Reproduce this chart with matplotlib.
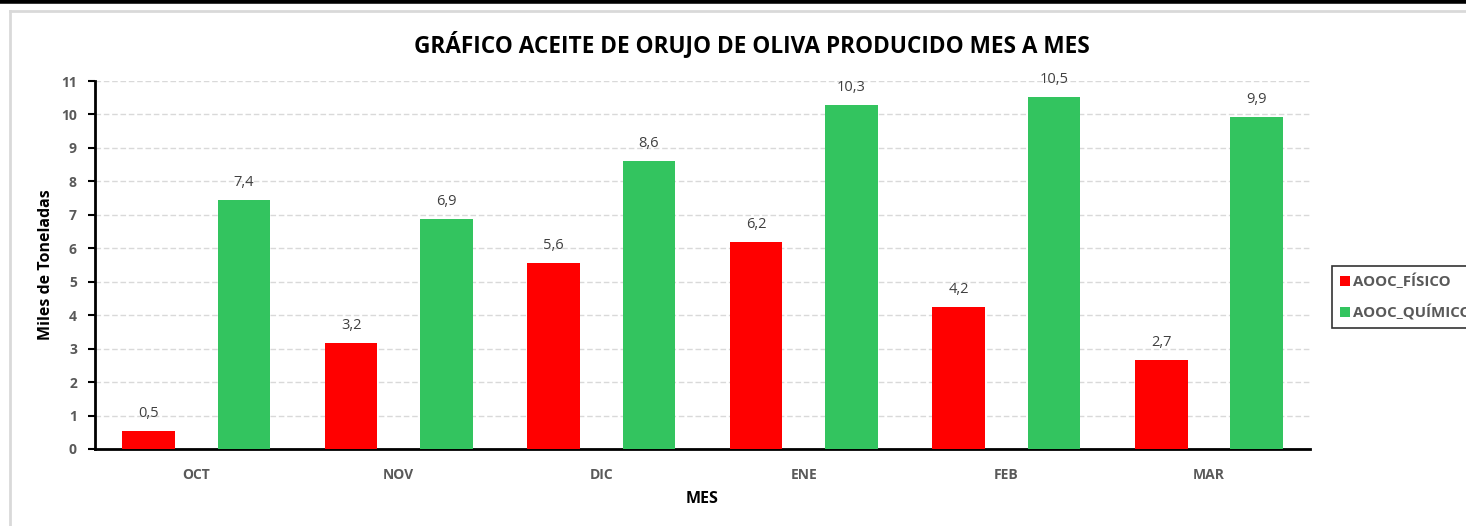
import matplotlib
matplotlib.use("Agg")
import matplotlib.pyplot as plt
import numpy as np
from matplotlib.lines import Line2D

meses = ["OCT", "NOV", "DIC", "ENE", "FEB", "MAR"]
fisico = [0.54, 3.17, 5.56, 6.19, 4.25, 2.66]
quimico = [7.44, 6.87, 8.61, 10.28, 10.52, 9.93]
yticks = list(range(0, 12))

plt.rcParams["font.family"] = ["Open Sans", "DejaVu Sans"]

fig = plt.figure(figsize=(14.66, 5.26), dpi=100)
ax = fig.add_axes([0.0648, 0.1464, 0.8288, 0.6996])

x = np.arange(len(meses))
w = 0.26
b1 = ax.bar(x - 0.235, fisico, w, color="#FF0000", label="AOOC_FÍSICO", zorder=3)
b2 = ax.bar(x + 0.235, quimico, w, color="#33C45F", label="AOOC_QUÍMICO", zorder=3)

for bars in (b1, b2):
    for r in bars:
        h = r.get_height()
        ax.annotate(f"{h:.1f}".replace(".", ","), (r.get_x() + r.get_width() / 2, h),
                    xytext=(0, 7), textcoords="offset points", ha="center", va="bottom",
                    fontsize=10.5, color="#404040")

ax.set_xlim(-0.5, len(meses) - 0.5)
ax.set_ylim(0, 11)
ax.set_yticks(yticks)
ax.set_yticklabels([str(t) for t in yticks], fontsize=10, fontweight="bold", color="#595959")
ax.set_xticks(x)
ax.set_xticklabels(meses, fontsize=10, fontweight="bold", color="#595959")
ax.tick_params(axis="x", length=0, pad=14)
ax.tick_params(axis="y", length=5, width=1.5, pad=8)
ax.yaxis.grid(True, linestyle=(0, (4, 2)), color="#D9D9D9", linewidth=1, zorder=0)

for s in ("top", "right"):
    ax.spines[s].set_visible(False)
for s in ("left", "bottom"):
    ax.spines[s].set_linewidth(2)
    ax.spines[s].set_color("black")

ax.set_ylabel("Miles de Toneladas", fontsize=11.5, fontweight="bold", labelpad=5)
ax.set_xlabel("MES", fontsize=11.5, fontweight="bold", labelpad=6)
fig.text(0.5126, 0.915, "GRÁFICO ACEITE DE ORUJO DE OLIVA PRODUCIDO MES A MES",
         ha="center", va="center", fontsize=16.3, fontweight="bold")

leg = fig.legend(loc="upper left", bbox_to_anchor=(0.9035, 0.508), frameon=True,
                 fancybox=False, edgecolor="black", handlelength=0.7, handleheight=0.7,
                 handletextpad=0.2, labelspacing=1.0, borderpad=0.5,
                 prop={"weight": "bold", "size": 10.8})
leg.get_frame().set_linewidth(1.2)
for t in leg.get_texts():
    t.set_color("#595959")

# chart border lines
fig.add_artist(Line2D([0, 1], [0.9975, 0.9975], color="black", linewidth=4, transform=fig.transFigure))
fig.add_artist(Line2D([0.0065, 1], [0.979, 0.979], color="#D9D9D9", linewidth=2, transform=fig.transFigure))
fig.add_artist(Line2D([0.0065, 0.0065], [0, 0.979], color="#D9D9D9", linewidth=2, transform=fig.transFigure))

fig.savefig("out.png", dpi=100)
